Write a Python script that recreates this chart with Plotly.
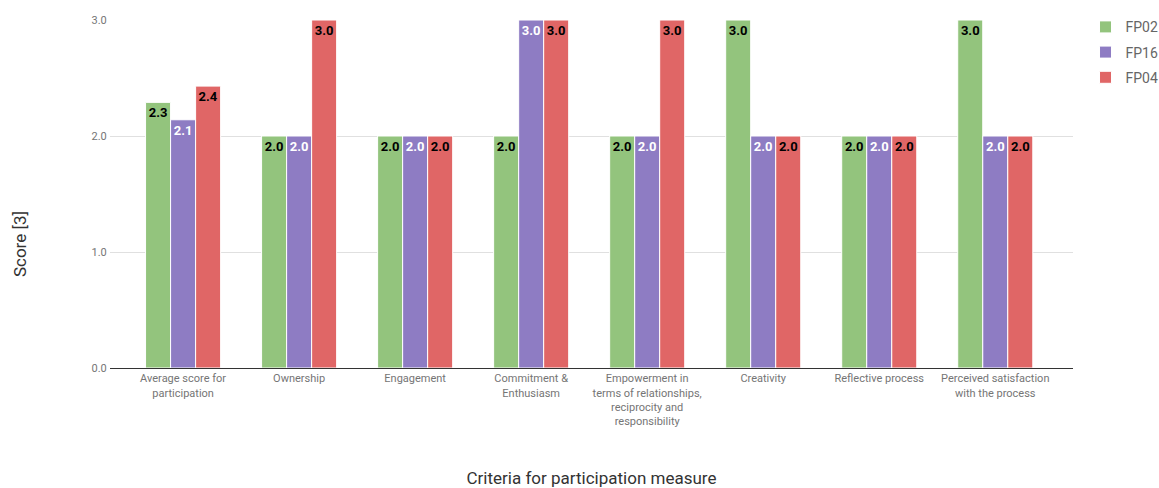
import plotly.graph_objects as go

categories = [
    "Average score for<br>participation",
    "Ownership",
    "Engagement",
    "Commitment &<br>Enthusiasm",
    "Empowerment in<br>terms of relationships,<br>reciprocity and<br>responsibility",
    "Creativity",
    "Reflective process",
    "Perceived satisfaction<br>with the process",
]
fp02 = [2.29, 2.0, 2.0, 2.0, 2.0, 3.0, 2.0, 3.0]
fp16 = [2.14, 2.0, 2.0, 3.0, 2.0, 2.0, 2.0, 2.0]
fp04 = [2.43, 3.0, 2.0, 3.0, 3.0, 2.0, 2.0, 2.0]

series = [
    ("FP02", fp02, "#93c47d", "#000000"),
    ("FP16", fp16, "#8e7cc3", "#ffffff"),
    ("FP04", fp04, "#e06666", "#000000"),
]

fig = go.Figure()
for name, vals, color, tcolor in series:
    fig.add_trace(go.Bar(
        name=name, x=categories, y=vals, legendgroup=name,
        marker=dict(color=color, line=dict(color="#ffffff", width=1)),
        text=[f"{v:.1f}" for v in vals],
        textposition="inside", insidetextanchor="end", textangle=0,
        textfont=dict(family="Roboto", size=13, color=tcolor, weight="bold"),
        constraintext="none",
    ))

fig.update_layout(
    width=1159, height=488,
    margin=dict(l=110, r=86, t=20, b=120, autoexpand=False),
    paper_bgcolor="white", plot_bgcolor="white",
    barmode="group", bargap=0.353, bargroupgap=0,
    font=dict(family="Roboto", color="#757575"),
    legend=dict(x=1.013, y=1.025, xanchor="left", yanchor="top",
                font=dict(size=14, color="#666666"), tracegroupgap=4),
    showlegend=True,
    annotations=[
        dict(text="Score [3]", xref="paper", yref="paper",
             x=-0.0935, y=0.356, xanchor="center", yanchor="middle",
             textangle=-90, showarrow=False,
             font=dict(size=17, color="#333333")),
    ],
)
fig.update_xaxes(
    range=[-0.63, 7.67],
    tickfont=dict(size=11, color="#757575"),
    showline=True, linecolor="#333333", linewidth=1,
    title=dict(text="Criteria for participation measure",
               font=dict(size=17, color="#333333"), standoff=48),
)
fig.update_yaxes(
    range=[0, 3], tickvals=[0, 1, 2, 3], ticktext=["0.0", "1.0", "2.0", "3.0"],
    tickfont=dict(size=11, color="#757575"),
    gridcolor="#e0e0e0", zeroline=False,
    ticks="outside", ticklen=0,
)
fig.write_html("out.html")
